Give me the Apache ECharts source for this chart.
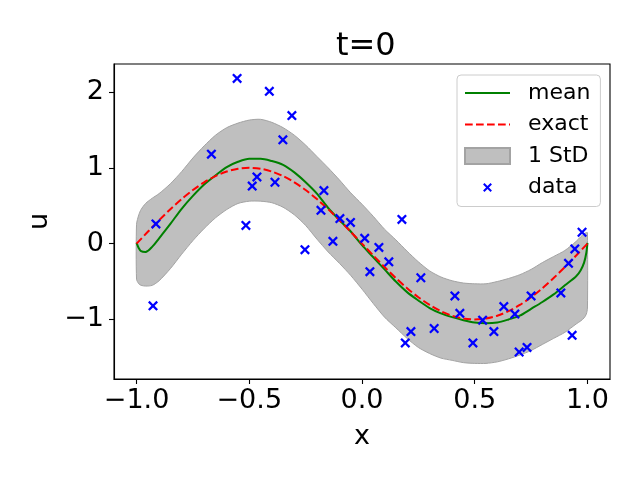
<!DOCTYPE html>
<html>
<head>
<meta charset="utf-8">
<script src="https://cdn.jsdelivr.net/npm/echarts@6/dist/echarts.min.js"></script>
<style>
  html, body { margin: 0; padding: 0; background: #fff; }
  #chart { width: 640px; height: 480px; }
</style>
</head>
<body>
<div id="chart"></div>
<script>
// grid of x positions for the GP mean and its 1 StD band
var bandX = [-1, -0.99, -0.98, -0.96, -0.93, -0.9, -0.85, -0.8, -0.75, -0.7, -0.65, -0.6,
  -0.55, -0.5, -0.45, -0.4, -0.35, -0.3, -0.25, -0.2, -0.15, -0.1, -0.05, 0,
  0.05, 0.1, 0.15, 0.2, 0.25, 0.3, 0.35, 0.4, 0.45, 0.5, 0.55, 0.6, 0.65, 0.7,
  0.75, 0.8, 0.85, 0.9, 0.95, 0.97, 0.985, 0.995, 1];
var meanY = [0.01, -0.06, -0.10, -0.11, -0.04, 0.07, 0.26, 0.46, 0.63, 0.78, 0.90, 1.01,
  1.08, 1.12, 1.12, 1.09, 1.04, 0.94, 0.81, 0.66, 0.47, 0.31, 0.16, -0.02,
  -0.18, -0.34, -0.50, -0.64, -0.75, -0.85, -0.92, -0.97, -1.01, -1.04, -1.05, -1.04, -1.00, -0.95,
  -0.86, -0.77, -0.67, -0.55, -0.43, -0.35, -0.25, -0.12, 0.01];
var upperY = [0.255, 0.38, 0.45, 0.53, 0.60, 0.66, 0.79, 0.95, 1.13, 1.29, 1.43, 1.53,
  1.59, 1.63, 1.64, 1.60, 1.53, 1.43, 1.30, 1.15, 1.00, 0.84, 0.67, 0.52,
  0.36, 0.19, 0.05, -0.10, -0.24, -0.36, -0.44, -0.49, -0.52, -0.53, -0.53, -0.50, -0.46, -0.41,
  -0.34, -0.25, -0.17, -0.09, 0.03, 0.09, 0.13, 0.145, 0.145];
var lowerY = [-0.47, -0.53, -0.55, -0.56, -0.55, -0.49, -0.33, -0.14, 0.04, 0.20, 0.34, 0.45,
  0.53, 0.56, 0.56, 0.54, 0.48, 0.38, 0.24, 0.06, -0.11, -0.26, -0.42, -0.60,
  -0.79, -0.97, -1.11, -1.25, -1.37, -1.45, -1.51, -1.54, -1.57, -1.58, -1.58, -1.56, -1.52, -1.47,
  -1.41, -1.33, -1.25, -1.17, -1.06, -1.02, -0.98, -0.93, -0.85];

// exact solution
var exactX = [-1, -0.95, -0.9, -0.85, -0.8, -0.75, -0.7, -0.65, -0.6, -0.55, -0.5,
  -0.45, -0.4, -0.35, -0.3, -0.25, -0.2, -0.15, -0.1, -0.05, 0,
  0.05, 0.1, 0.15, 0.2, 0.25, 0.3, 0.35, 0.4, 0.45, 0.5,
  0.55, 0.6, 0.65, 0.7, 0.75, 0.8, 0.85, 0.9, 0.95, 1];
var exactY = [0, 0.156, 0.309, 0.454, 0.588, 0.707, 0.809, 0.891, 0.951, 0.988, 1,
  0.988, 0.951, 0.891, 0.809, 0.707, 0.588, 0.454, 0.309, 0.156, 0,
  -0.156, -0.309, -0.454, -0.588, -0.707, -0.809, -0.891, -0.951, -0.988, -1,
  -0.988, -0.951, -0.891, -0.809, -0.707, -0.588, -0.454, -0.309, -0.156, 0];

// noisy observations
var dataX = [-0.554, -0.411, -0.311, -0.351, -0.668, -0.466, -0.487, -0.386, -0.914, -0.515,
  -0.169, -0.182, -0.098, -0.051, -0.129, -0.253, -0.927, 0.177, 0.012, 0.075,
  0.119, 0.035, 0.261, 0.412, 0.434, 0.535, 0.217, 0.192, 0.320, 0.492,
  0.585, 0.629, 0.678, 0.750, 0.697, 0.732, 0.882, 0.916, 0.944, 0.976, 0.932];
var dataY = [2.18, 2.01, 1.69, 1.37, 1.18, 0.88, 0.76, 0.81, 0.26, 0.24,
  0.70, 0.44, 0.33, 0.28, 0.03, -0.08, -0.82, 0.32, 0.07, -0.05,
  -0.24, -0.37, -0.45, -0.69, -0.92, -1.01, -1.16, -1.31, -1.12, -1.31,
  -1.16, -0.83, -0.93, -0.69, -1.43, -1.37, -0.65, -0.26, -0.07, 0.15, -1.21];

var xTicks = [-1, -0.5, 0, 0.5, 1];
var yTicks = [-1, 0, 1, 2];

function pairs(xs, ys) {
  return xs.map(function (x, i) { return [x, ys[i]]; });
}
function minus(s) { return s.replace('-', '\u2212'); }

var font = 'DejaVu Sans';
var crossPath = 'path://M0,1.6L1.6,0L5,3.4L8.4,0L10,1.6L6.6,5L10,8.4L8.4,10L5,6.6L1.6,10L0,8.4L3.4,5Z';
var crossLegend = crossPath.replace('Z', 'ZM-4,-4M14,14');
var edgeColor = '#a3a3a3';
var hidden = { color: 'rgba(0,0,0,0)', borderColor: 'rgba(0,0,0,0)', borderWidth: 0, opacity: 0 };

// band polygon: upper edge left to right, then lower edge back
function renderBand(params, api) {
  if (params.dataIndex !== 0) return;
  var pts = [];
  for (var i = 0; i < bandX.length; i++) pts.push(api.coord([bandX[i], upperY[i]]));
  for (var j = bandX.length - 1; j >= 0; j--) pts.push(api.coord([bandX[j], lowerY[j]]));
  return {
    type: 'polygon',
    shape: { points: pts, smooth: 0.25 },
    style: { fill: '#bfbfbf', stroke: edgeColor, lineWidth: 1 }
  };
}

var chart = echarts.init(document.getElementById('chart'));
chart.setOption({
  animation: false,
  backgroundColor: '#ffffff',
  textStyle: { fontFamily: font },
  title: {
    text: 't=0',
    left: 331,
    top: 26,
    textStyle: { fontFamily: font, fontSize: 32, fontWeight: 'normal', color: '#000' }
  },
  legend: {
    orient: 'vertical',
    left: 457,
    top: 75,
    padding: [7, 10, 8, 7],
    itemWidth: 45,
    itemHeight: 16,
    itemGap: 9.5,
    backgroundColor: 'rgba(255,255,255,0.8)',
    borderColor: '#cccccc',
    borderWidth: 1,
    borderRadius: 4,
    textStyle: { fontFamily: font, fontSize: 22, lineHeight: 22, color: '#000', padding: [0, 0, 0, 13] },
    data: [
      { name: 'mean', itemStyle: hidden },
      { name: 'exact', itemStyle: hidden },
      { name: '1 StD', icon: 'rect' },
      { name: 'data', icon: crossLegend }
    ]
  },
  grid: {
    left: 114, right: 30, top: 64, bottom: 101,
    show: true, borderColor: '#000', borderWidth: 1.1, backgroundColor: 'transparent'
  },
  xAxis: {
    type: 'value',
    min: -1.1, max: 1.1,
    name: 'x',
    nameLocation: 'middle',
    nameGap: 44,
    nameTextStyle: { fontFamily: font, fontSize: 27, color: '#000' },
    splitLine: { show: false },
    axisLine: { show: true, onZero: false, lineStyle: { color: '#000', width: 1.1 } },
    axisTick: { show: true, inside: false, length: 5, lineStyle: { color: '#000', width: 1.1 }, customValues: xTicks },
    axisLabel: {
      customValues: xTicks,
      margin: 8,
      fontFamily: font, fontSize: 27, color: '#000',
      formatter: function (v) { return minus(v.toFixed(1)); }
    }
  },
  yAxis: {
    type: 'value',
    min: -1.786, max: 2.37,
    name: 'u',
    nameLocation: 'middle',
    nameGap: 48,
    nameRotate: 90,
    nameTextStyle: { fontFamily: font, fontSize: 27, color: '#000' },
    splitLine: { show: false },
    axisLine: { show: true, onZero: false, lineStyle: { color: '#000', width: 1.1 } },
    axisTick: { show: true, inside: false, length: 5, lineStyle: { color: '#000', width: 1.1 }, customValues: yTicks },
    axisLabel: {
      customValues: yTicks,
      margin: 10,
      fontFamily: font, fontSize: 27, color: '#000',
      formatter: function (v) { return minus(String(v)); }
    }
  },
  series: [
    {
      name: '1 StD',
      type: 'custom',
      coordinateSystem: 'cartesian2d',
      data: [[bandX[0], upperY[0]]],
      renderItem: renderBand,
      itemStyle: { color: '#bfbfbf', borderColor: edgeColor, borderWidth: 1 },
      silent: true,
      z: 1
    },
    {
      name: 'mean',
      type: 'line',
      data: pairs(bandX, meanY),
      symbol: 'none',
      smooth: 0.3,
      lineStyle: { color: '#008000', width: 2 },
      itemStyle: { color: '#008000' },
      z: 3
    },
    {
      name: 'exact',
      type: 'line',
      data: pairs(exactX, exactY),
      symbol: 'none',
      smooth: 0.3,
      lineStyle: { color: '#ff0000', width: 2, type: [7.7, 3.3] },
      itemStyle: { color: '#ff0000' },
      z: 4
    },
    {
      name: 'data',
      type: 'scatter',
      data: pairs(dataX, dataY),
      symbol: crossPath,
      symbolSize: 10,
      itemStyle: { color: '#0000ff', opacity: 1 },
      z: 5
    }
  ]
});
</script>
</body>
</html>
